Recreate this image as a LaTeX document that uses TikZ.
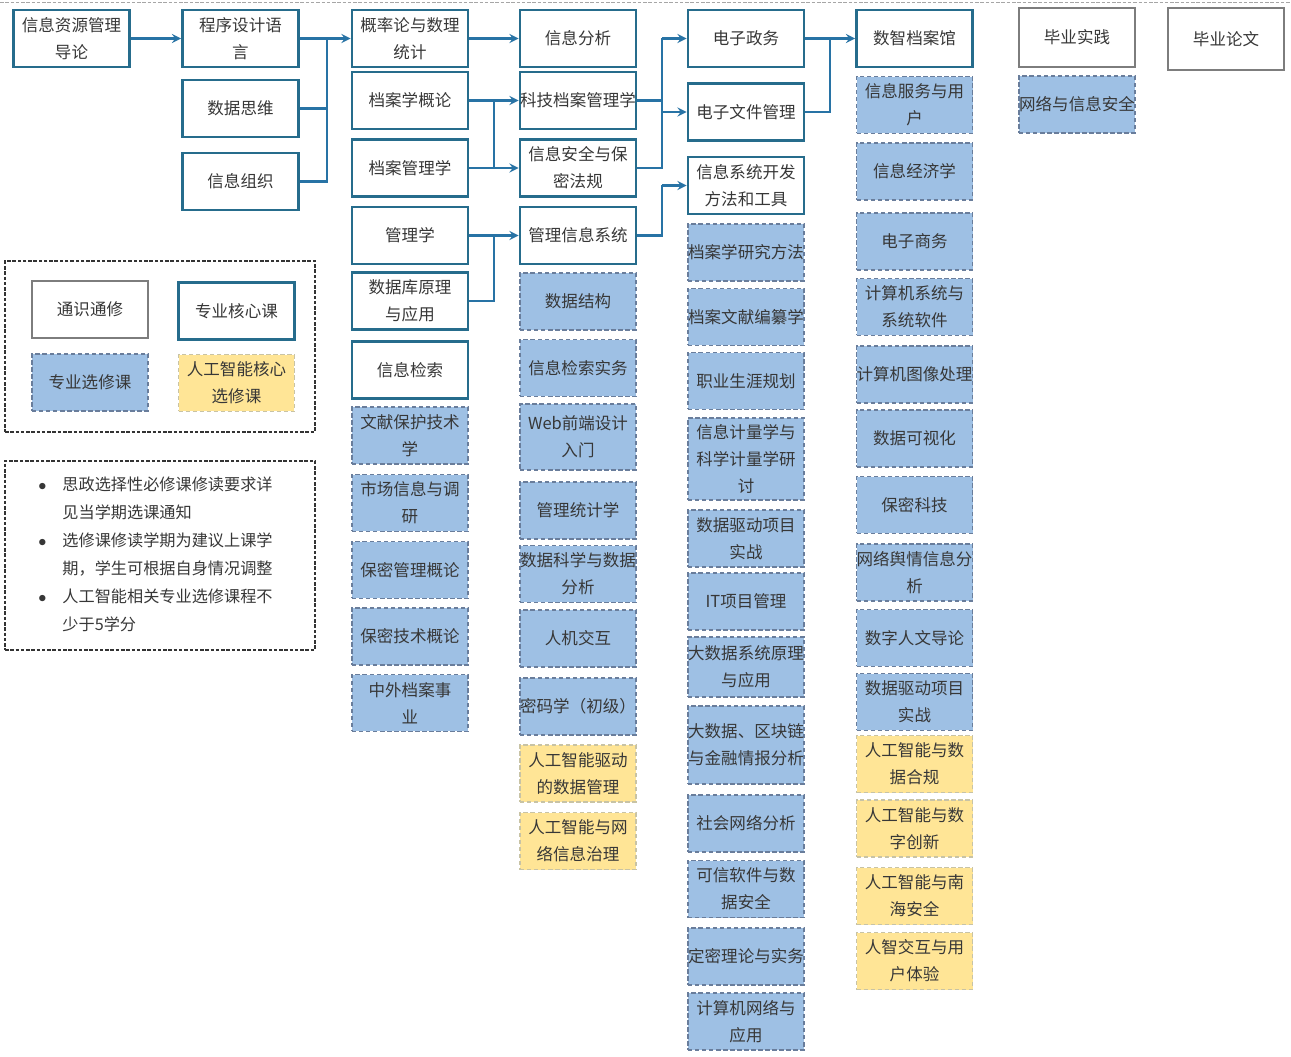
\documentclass[tikz,border=0pt]{standalone}
\usepackage{fontspec}
\setmainfont{Noto Sans CJK SC}
\definecolor{coreline}{RGB}{38,108,140}
\definecolor{linkline}{RGB}{40,115,165}
\definecolor{electfill}{RGB}{158,192,228}
\definecolor{electline}{RGB}{105,125,155}
\definecolor{aifill}{RGB}{255,229,150}
\definecolor{ailine}{RGB}{200,195,165}
\definecolor{genline}{RGB}{125,125,125}
\definecolor{boxtext}{RGB}{55,55,55}

\begin{document}
\begin{tikzpicture}[x=0.02cm, y=-0.02cm,
  coursebox/.style={minimum width=2.32cm, minimum height=1.14cm, inner sep=0pt, align=center,
    font=\fontsize{9.4}{15.4}\selectfont, text=boxtext},
  core/.style={coursebox, draw=coreline, line width=1.6pt, fill=white},
  general/.style={coursebox, draw=genline, line width=0.7pt, fill=white},
  elect/.style={coursebox, draw=electline, fill=electfill, dash pattern=on 2.5pt off 1.5pt, line width=0.9pt},
  aielect/.style={coursebox, draw=ailine, fill=aifill, dash pattern=on 2.5pt off 1.5pt, line width=0.8pt},
  frame/.style={draw=black!80, dash pattern=on 2pt off 1pt, line width=0.9pt},
  link/.style={draw=linkline, line width=1.3pt},
  linkarrow/.style={link, ->, >=stealth}]
\useasboundingbox (0,0) rectangle (1291,1057);
\draw[gray!70, dash pattern=on 2pt off 1pt] (0,2) -- (1291,2);

% Column 1 and 2
\node[core] (intro) at (71.5,38.5) {信息资源管理\\导论};
\node[core] (prog) at (240.5,38.5) {程序设计语\\言};
\node[core] (datathink) at (240.5,108.5) {数据思维};
\node[core] (infoorg) at (240.5,181.5) {信息组织};

% Column 3
\node[core] (prob) at (410,38.5) {概率论与数理\\统计};
\node[core] (archintro) at (410,100.5) {档案学概论};
\node[core] (archmgmt) at (410,168) {档案管理学};
\node[core] (mgmt) at (410,235.5) {管理学};
\node[core] (db) at (410,301) {数据库原理\\与应用};
\node[core] (retrieval) at (410,370) {信息检索};
\node[elect] (docprot) at (410,435.5) {文献保护技术\\学};
\node[elect] (market) at (410,503) {市场信息与调\\研};
\node[elect] (secmgmt) at (410,570) {保密管理概论};
\node[elect] (sectech) at (410,636.5) {保密技术概论};
\node[elect] (archcause) at (410,703) {中外档案事\\业};

% Column 4
\node[core] (infoanal) at (578,38.5) {信息分析};
\node[core] (techarch) at (578,100.5) {科技档案管理学};
\node[core] (infosec) at (578,168) {信息安全与保\\密法规};
\node[core] (mis) at (578,235.5) {管理信息系统};
\node[elect] (datastruct) at (578,301.5) {数据结构};
\node[elect] (retrpract) at (578,368) {信息检索实务};
\node[elect, minimum height=1.32cm] (web) at (578,437) {Web前端设计\\入门};
\node[elect] (mgmtstat) at (578,510.5) {管理统计学};
\node[elect] (datasci) at (578,574) {数据科学与数据\\分析};
\node[elect] (hci) at (578,638.5) {人机交互};
\node[elect] (crypto) at (578,706.5) {密码学（初级）};
\node[aielect] (aidata) at (578,773.5) {人工智能驱动\\的数据管理};
\node[aielect] (ainet) at (578,841) {人工智能与网\\络信息治理};

% Column 5
\node[core] (egov) at (746,38.5) {电子政务};
\node[core] (efile) at (746,112) {电子文件管理};
\node[core] (isdev) at (746,185.5) {信息系统开发\\方法和工具};
\node[elect] (archmeth) at (746,252.5) {档案学研究方法};
\node[elect] (archedit) at (746,317) {档案文献编纂学};
\node[elect] (career) at (746,381) {职业生涯规划};
\node[elect, minimum height=1.64cm] (metrics) at (746,459) {信息计量学与\\科学计量学研\\讨};
\node[elect] (project) at (746,538.5) {数据驱动项目\\实战};
\node[elect] (itproj) at (746,601.5) {IT项目管理};
\node[elect, minimum height=1.2cm] (bigdata) at (746,667) {大数据系统原理\\与应用};
\node[elect, minimum height=1.56cm] (chain) at (746,745) {大数据、区块链\\与金融情报分析};
\node[elect] (social) at (746,823.5) {社会网络分析};
\node[elect] (trust) at (746,889) {可信软件与数\\据安全};
\node[elect] (classif) at (746,956.5) {定密理论与实务};
\node[elect] (network) at (746,1021.5) {计算机网络与\\应用};

% Column 6
\node[core] (smartarch) at (914.5,38.5) {数智档案馆};
\node[elect] (infoserv) at (914.5,105) {信息服务与用\\户};
\node[elect] (infoecon) at (914.5,171.5) {信息经济学};
\node[elect] (ecom) at (914.5,241.5) {电子商务};
\node[elect] (compsys) at (914.5,307) {计算机系统与\\系统软件};
\node[elect] (image) at (914.5,374.5) {计算机图像处理};
\node[elect] (visual) at (914.5,438.5) {数据可视化};
\node[elect] (sectechsci) at (914.5,505) {保密科技};
\node[elect] (opinion) at (914.5,572.5) {网络舆情信息分\\析};
\node[elect] (dh) at (914.5,638) {数字人文导论};
\node[elect] (project2) at (914.5,702) {数据驱动项目\\实战};
\node[aielect] (aicomply) at (914.5,764) {人工智能与数\\据合规};
\node[aielect] (aicreate) at (914.5,828.5) {人工智能与数\\字创新};
\node[aielect] (aisea) at (914.5,896) {人工智能与南\\海安全};
\node[aielect] (aiux) at (914.5,961) {人智交互与用\\户体验};

% Column 7 and 8
\node[general, minimum height=1.18cm] (practice) at (1077,37.5) {毕业实践};
\node[elect] (netsec) at (1077,104.5) {网络与信息安全};
\node[general, minimum height=1.24cm] (thesis) at (1226,39) {毕业论文};

% Connectors
\coordinate (j1) at (327,38.5);
\coordinate (j2) at (494,100.5);
\coordinate (j3) at (494,235.5);
\coordinate (j4) at (662,38.5);
\coordinate (j5) at (662,185.5);
\coordinate (j6) at (830,38.5);
\draw[linkarrow] (intro) -- (prog);
\draw[linkarrow] (prog) -- (prob);
\draw[link] (datathink.east) -| (j1);
\draw[link] (infoorg.east) -| (j1);
\draw[linkarrow] (prob) -- (infoanal);
\draw[linkarrow] (archintro) -- (techarch);
\draw[linkarrow] (archmgmt) -- (infosec);
\draw[link] (j2) -- (j2 |- archmgmt.east);
\draw[linkarrow] (mgmt) -- (mis);
\draw[link] (db.east) -| (j3);
\draw[link] (techarch.east) -| (j4);
\draw[link] (infosec.east) -| (j4);
\draw[linkarrow] (j4) -- (egov.west);
\draw[linkarrow] (j4 |- efile.west) -- (efile.west);
\draw[link] (mis.east) -| (j5);
\draw[linkarrow] (j5) -- (isdev.west);
\draw[linkarrow] (egov) -- (smartarch);
\draw[link] (efile.east) -| (j6);

% Legend
\node[frame, minimum width=6.2cm, minimum height=3.42cm] (legend) at (160,346.5) {};
\node[general] (lgeneral) at (90,309.5) {通识通修};
\node[core] (lcore) at (236.5,311) {专业核心课};
\node[elect] (lelect) at (90,382.5) {专业选修课};
\node[aielect] (laielect) at (236.5,383) {人工智能核心\\选修课};

% Notes
\node[frame, minimum width=6.2cm, minimum height=3.78cm] (notesframe) at (160,555.5) {};
\node[anchor=west, inner sep=0pt, text=boxtext, font=\fontsize{9.2}{16}\selectfont] (notes) at (38,555) {%
  \begin{tabular}{@{}c@{\hspace{3.2mm}}l@{}}
  $\bullet$ & 思政选择性必修课修读要求详\\
            & 见当学期选课通知\\
  $\bullet$ & 选修课修读学期为建议上课学\\
            & 期，学生可根据自身情况调整\\
  $\bullet$ & 人工智能相关专业选修课程不\\
            & 少于5学分
  \end{tabular}};
\end{tikzpicture}
\end{document}
